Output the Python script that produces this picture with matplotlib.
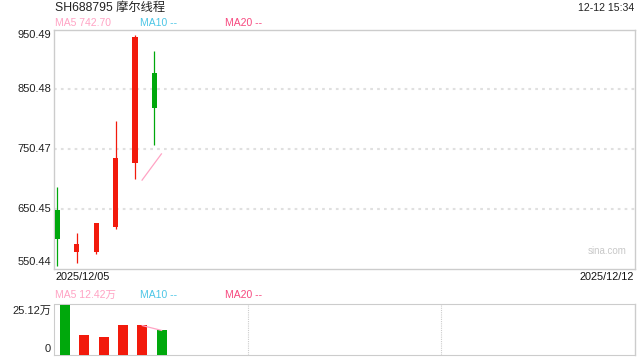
import numpy as np
import matplotlib
matplotlib.use("Agg")
import matplotlib.pyplot as plt
import matplotlib.transforms as mtransforms

plt.rcParams['font.family'] = ['Liberation Sans', 'Noto Sans CJK SC', 'DejaVu Sans']

# data
title = "SH688795 摩尔线程"
stamp = "12-12 15:34"
first_date = "2025/12/05"
last_date = "2025/12/12"
opens = [649.0, 579.4, 579.4, 620.2, 728.1, 878.3]
closes = [600.5, 593.0, 627.0, 736.0, 938.0, 819.5]
highs = [687.0, 610.2, 627.4, 797.7, 941.0, 914.6]
lows = [555.5, 560.1, 575.6, 616.8, 700.3, 757.1]
volumes = [25.12, 10.0, 8.9, 15.2, 15.2, 12.8]  # 万
price_ticks = [550.44, 650.45, 750.47, 850.48, 950.49]
price_labels = ["550.44", "650.45", "750.47", "850.48", "950.49"]
vol_max = 25.12
n_slots = 30

RED = "#f21a0c"
GREEN = "#00a80c"
MA5_C = "#ffa3c4"
MA10_C = "#4cc6e6"
MA20_C = "#f7487f"
BORDER = "#cccccc"
GRID = "#e0e0e0"


def moving_avg(vals, n):
    out = [np.nan] * len(vals)
    for i in range(n - 1, len(vals)):
        out[i] = sum(vals[i - n + 1:i + 1]) / n
    return out


ma5 = moving_avg(closes, 5)
vma5 = moving_avg(volumes, 5)

fig = plt.figure(figsize=(6.4, 3.6), dpi=100)
ax = fig.add_axes([54 / 640, 1 - 269 / 360, 581 / 640, 239.5 / 360])
vax = fig.add_axes([54 / 640, 1 - 355 / 360, 581 / 640, 50.7 / 360])

xlim = (-0.18, n_slots - 0.16)
x = np.arange(len(opens))

# price panel
for i in x:
    up = closes[i] >= opens[i]
    c = RED if up else GREEN
    ax.vlines(i, lows[i], highs[i], color=c, lw=0.9, zorder=3)
    lo, hi = min(opens[i], closes[i]), max(opens[i], closes[i])
    ax.bar(i, hi - lo, bottom=lo, width=0.27, color=c, lw=0, zorder=4)
ax.plot(x + 0.37, ma5, color=MA5_C, lw=0.9, zorder=5)

ax.set_xlim(*xlim)
ax.set_ylim(price_ticks[0], price_ticks[-1])
for t in price_ticks[1:-1]:
    ax.axhline(t, color=GRID, lw=1.5, ls=(0, (1.3, 2)), zorder=1)
for s in ax.spines.values():
    s.set_color(BORDER)
    s.set_linewidth(1)
ax.set_xticks([])
ax.set_yticks([])
trans = mtransforms.blended_transform_factory(fig.transFigure, ax.transData)
for k, (t, lab) in enumerate(zip(price_ticks, price_labels)):
    va = 'bottom' if k == 0 else ('top' if k == len(price_ticks) - 1 else 'center')
    off = 2 if k == 0 else (-1 if k == len(price_ticks) - 1 else 0)
    ax.text(51 / 640, t, lab, transform=trans + mtransforms.ScaledTranslation(0, off / 100, fig.dpi_scale_trans),
            ha='right', va=va, fontsize=8, color="#222222")
ax.text(0.985, 0.075, "sina.com", transform=ax.transAxes, ha='right', va='center',
        fontsize=7, color="#c8c8c8")

# volume panel
for i in x:
    c = RED if closes[i] >= opens[i] else GREEN
    vax.bar(i + 0.38, volumes[i], width=0.52, color=c, lw=0, zorder=3)
vax.plot(x + 0.38, vma5, color=MA5_C, lw=0.9, zorder=4)
vax.set_xlim(*xlim)
vax.set_ylim(0, vol_max * 1.02)
vax.set_xticks([])
vax.set_yticks([])
for side in ['top', 'bottom', 'left']:
    vax.spines[side].set_linestyle((0, (1, 1)))
    vax.spines[side].set_color(BORDER)
    vax.spines[side].set_linewidth(0.8)
vax.spines['right'].set_color(BORDER)
vax.spines['right'].set_linewidth(1)
for fx in (1 / 3, 2 / 3):
    vax.axvline(xlim[0] + fx * (xlim[1] - xlim[0]), color=BORDER, lw=0.8, ls=(0, (1, 1)), zorder=1)
vtrans = mtransforms.blended_transform_factory(fig.transFigure, vax.transAxes)
vax.text(51 / 640, 0.97, f"{vol_max:.2f}万", transform=vtrans, ha='right', va='top',
         fontsize=8, color="#222222")
vax.text(51 / 640, 0.02, "0", transform=vtrans, ha='right', va='bottom',
         fontsize=8, color="#222222")

# header texts
fig.text(55 / 640, 1 - 7.5 / 360, title, ha='left', va='center', fontsize=8.8, color="#222222")
fig.text(634 / 640, 1 - 8 / 360, stamp, ha='right', va='center', fontsize=7.6, color="#222222")
fig.text(55 / 640, 1 - 23 / 360, f"MA5 {ma5[-1]:.2f}", ha='left', va='center', fontsize=7.5, color=MA5_C)
fig.text(140 / 640, 1 - 23 / 360, "MA10 --", ha='left', va='center', fontsize=7.5, color=MA10_C)
fig.text(225 / 640, 1 - 23 / 360, "MA20 --", ha='left', va='center', fontsize=7.5, color=MA20_C)

fig.text(55 / 640, 1 - 277 / 360, first_date, ha='left', va='center', fontsize=7.8, color="#111111")
fig.text(634 / 640, 1 - 277 / 360, last_date, ha='right', va='center', fontsize=7.8, color="#111111")

fig.text(55 / 640, 1 - 295 / 360, f"MA5 {vma5[-1]:.2f}万", ha='left', va='center', fontsize=7.5, color=MA5_C)
fig.text(140 / 640, 1 - 295 / 360, "MA10 --", ha='left', va='center', fontsize=7.5, color=MA10_C)
fig.text(225 / 640, 1 - 295 / 360, "MA20 --", ha='left', va='center', fontsize=7.5, color=MA20_C)

fig.savefig("out.png", dpi=100, facecolor="white")
